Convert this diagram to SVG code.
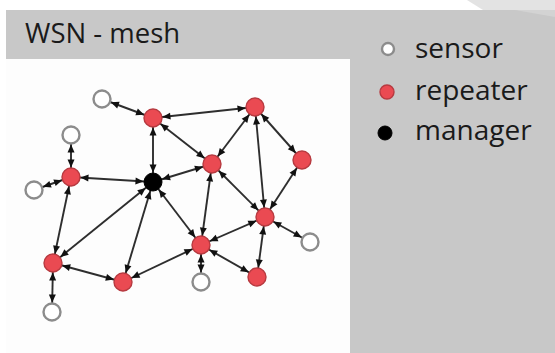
<svg xmlns="http://www.w3.org/2000/svg" width="555" height="353" viewBox="0 0 555 353">
<style>
.bg{fill:#c8c8c8}
.txt{font-family:"Open Sans","DejaVu Sans",sans-serif;fill:#1a1a1a}
.edge line{stroke:#2e2e2e;stroke-width:1.9;marker-start:url(#ah);marker-end:url(#ah)}
.sensor{fill:#fff;stroke:#8c8c8c;stroke-width:2.4}
.repeater{fill:#ea4a52;stroke:#b73a40;stroke-width:1.4}
.manager{fill:#000;stroke:#000;stroke-width:1}
</style>
<defs>
<marker id="ah" markerUnits="userSpaceOnUse" markerWidth="20" markerHeight="8" refX="17.5" refY="3.5" orient="auto-start-reverse" viewBox="0 0 20 7" overflow="visible">
<path d="M0,0 L8,3.5 L0,7 z" fill="#111"/>
</marker>
</defs>
<rect width="555" height="353" fill="#fff"/>
<rect class="bg" x="6" y="10" width="549" height="343"/>
<polygon points="467,0 555,0 555,10 483,10" fill="#e3e3e3"/>
<polygon points="515,10 555,10 555,17" fill="#d3d3d3"/>
<rect x="6" y="59" width="344" height="294" fill="#fdfdfd"/>
<text class="txt" x="25" y="43" font-size="27.5">WSN - mesh</text>
<g id="legend">
<circle class="sensor" cx="388" cy="49" r="6"/>
<text class="txt" x="415" y="58" font-size="28">sensor</text>
<circle class="repeater" cx="387" cy="92" r="7"/>
<text class="txt" x="415" y="100" font-size="28">repeater</text>
<circle class="manager" cx="385" cy="133" r="7"/>
<text class="txt" x="415" y="140" font-size="28">manager</text>
</g>
<g id="connectors" class="edge">
<line x1="102" y1="99" x2="153" y2="118"/>
<line x1="153" y1="118" x2="255" y2="107"/>
<line x1="153" y1="118" x2="153" y2="182"/>
<line x1="153" y1="118" x2="212" y2="164"/>
<line x1="255" y1="107" x2="212" y2="164"/>
<line x1="255" y1="107" x2="265" y2="217"/>
<line x1="255" y1="107" x2="302" y2="160"/>
<line x1="302" y1="160" x2="265" y2="217"/>
<line x1="71" y1="135" x2="71" y2="177"/>
<line x1="71" y1="177" x2="34" y2="190"/>
<line x1="71" y1="177" x2="153" y2="182"/>
<line x1="71" y1="177" x2="53" y2="263"/>
<line x1="153" y1="182" x2="212" y2="164"/>
<line x1="153" y1="182" x2="53" y2="263"/>
<line x1="153" y1="182" x2="123" y2="282"/>
<line x1="153" y1="182" x2="201" y2="245"/>
<line x1="212" y1="164" x2="201" y2="245"/>
<line x1="212" y1="164" x2="265" y2="217"/>
<line x1="265" y1="217" x2="201" y2="245"/>
<line x1="265" y1="217" x2="310" y2="242"/>
<line x1="265" y1="217" x2="257" y2="277"/>
<line x1="201" y1="245" x2="123" y2="282"/>
<line x1="201" y1="245" x2="201" y2="282"/>
<line x1="201" y1="245" x2="257" y2="277"/>
<line x1="53" y1="263" x2="123" y2="282"/>
<line x1="53" y1="263" x2="52" y2="312"/>
</g>
<g id="S1"><circle class="sensor" cx="102" cy="99" r="8.5"/></g>
<g id="R1"><circle class="repeater" cx="153" cy="118" r="9"/></g>
<g id="R2"><circle class="repeater" cx="255" cy="107" r="9"/></g>
<g id="S2"><circle class="sensor" cx="71" cy="135" r="8.5"/></g>
<g id="R3"><circle class="repeater" cx="71" cy="177" r="9"/></g>
<g id="S3"><circle class="sensor" cx="34" cy="190" r="8.5"/></g>
<g id="M"><circle class="manager" cx="153" cy="182" r="9"/></g>
<g id="R4"><circle class="repeater" cx="212" cy="164" r="9"/></g>
<g id="R5"><circle class="repeater" cx="302" cy="160" r="9"/></g>
<g id="R6"><circle class="repeater" cx="265" cy="217" r="9"/></g>
<g id="S4"><circle class="sensor" cx="310" cy="242" r="8.5"/></g>
<g id="R7"><circle class="repeater" cx="201" cy="245" r="9"/></g>
<g id="R8"><circle class="repeater" cx="53" cy="263" r="9"/></g>
<g id="R9"><circle class="repeater" cx="123" cy="282" r="9"/></g>
<g id="S5"><circle class="sensor" cx="201" cy="282" r="8.5"/></g>
<g id="R10"><circle class="repeater" cx="257" cy="277" r="9"/></g>
<g id="S6"><circle class="sensor" cx="52" cy="312" r="8.5"/></g>
</svg>
